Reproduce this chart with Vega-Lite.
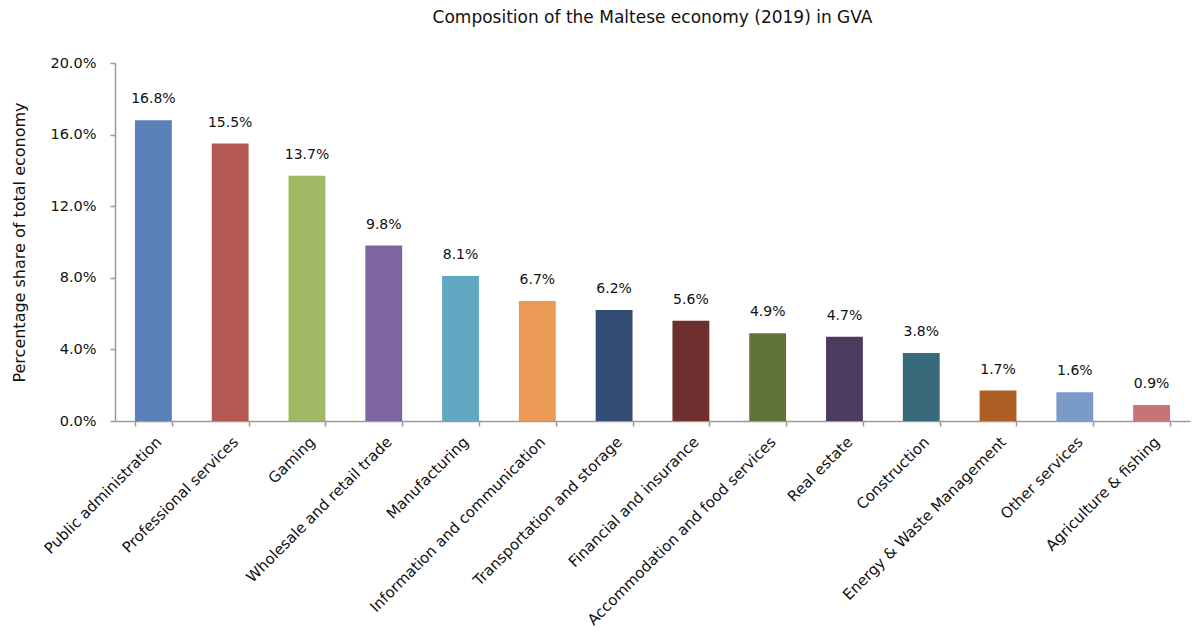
{
  "$schema": "https://vega.github.io/schema/vega-lite/v6.json",
  "autosize": "none",
  "width": 1075,
  "height": 358,
  "padding": {"left": 115, "top": 63, "right": 9, "bottom": 210},
  "background": "white",
  "title": {
    "text": "Composition of the Maltese economy (2019) in GVA",
    "fontSize": 17,
    "fontWeight": "normal",
    "font": "DejaVu Sans",
    "color": "#111111",
    "anchor": "middle",
    "offset": 28
  },
  "config": {
    "view": {"stroke": null},
    "font": "DejaVu Sans"
  },
  "data": {
    "values": [
      {"sector": "Public administration", "share": 0.168, "color": "#5B80B8"},
      {"sector": "Professional services", "share": 0.155, "color": "#B45A52"},
      {"sector": "Gaming", "share": 0.137, "color": "#A1B964"},
      {"sector": "Wholesale and retail trade", "share": 0.098, "color": "#7F65A0"},
      {"sector": "Manufacturing", "share": 0.081, "color": "#61A9C3"},
      {"sector": "Information and communication", "share": 0.067, "color": "#EB9A56"},
      {"sector": "Transportation and storage", "share": 0.062, "color": "#344D74"},
      {"sector": "Financial and insurance", "share": 0.056, "color": "#6F2F2F"},
      {"sector": "Accommodation and food services", "share": 0.049, "color": "#60733A"},
      {"sector": "Real estate", "share": 0.047, "color": "#4C3B5F"},
      {"sector": "Construction", "share": 0.038, "color": "#386A7B"},
      {"sector": "Energy & Waste Management", "share": 0.017, "color": "#AD5E24"},
      {"sector": "Other services", "share": 0.016, "color": "#7A9BC8"},
      {"sector": "Agriculture & fishing", "share": 0.009, "color": "#C67575"}
    ]
  },
  "encoding": {
    "x": {
      "field": "sector",
      "type": "nominal",
      "sort": null,
      "scale": {"paddingInner": 0.52, "paddingOuter": 0.26},
      "axis": {
        "title": null,
        "labelAngle": -45,
        "labelFontSize": 15,
        "labelColor": "#111111",
        "labelPadding": 8,
        "tickBand": "extent",
        "domainColor": "#9a9a9a",
        "domainWidth": 1.5,
        "tickColor": "#9a9a9a",
        "tickWidth": 1.5,
        "tickSize": 5,
        "labelLimit": 400
      }
    },
    "y": {
      "field": "share",
      "type": "quantitative",
      "scale": {"domain": [0, 0.2], "nice": false},
      "axis": {
        "title": "Percentage share of total economy",
        "titleFontSize": 16,
        "titleFontWeight": "normal",
        "titleColor": "#111111",
        "titlePadding": 22,
        "values": [0, 0.04, 0.08, 0.12, 0.16, 0.2],
        "format": ".1%",
        "labelFontSize": 14.5,
        "labelColor": "#111111",
        "labelPadding": 14,
        "grid": false,
        "domainColor": "#9a9a9a",
        "domainWidth": 1.5,
        "tickColor": "#9a9a9a",
        "tickWidth": 1.5,
        "tickSize": 5
      }
    }
  },
  "layer": [
    {
      "mark": {"type": "bar"},
      "encoding": {
        "color": {"field": "color", "type": "nominal", "scale": null}
      }
    },
    {
      "mark": {"type": "text", "baseline": "bottom", "dy": -14, "fontSize": 14, "color": "#111111"},
      "encoding": {
        "text": {"field": "share", "type": "quantitative", "format": ".1%"}
      }
    }
  ]
}
